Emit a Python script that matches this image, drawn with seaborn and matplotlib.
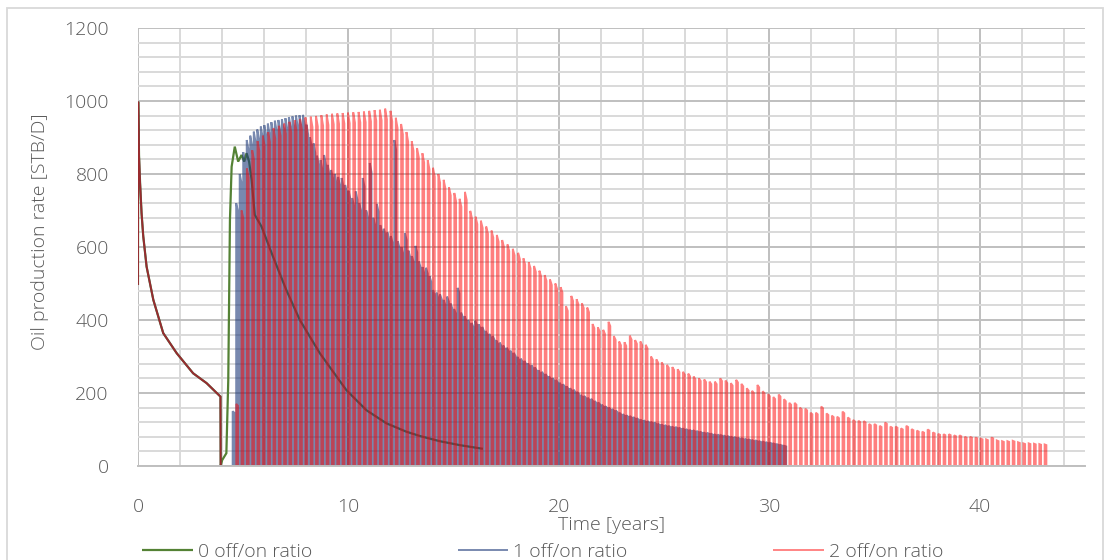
import numpy as np
import pandas as pd
import seaborn as sns
import matplotlib.pyplot as plt
from matplotlib.ticker import MultipleLocator
from matplotlib.patches import Rectangle

# primary depletion, shared by all three cases (years, STB/D)
primary_t = [0.0, 0.01, 0.05, 0.1, 0.17, 0.25, 0.41, 0.73, 1.2, 1.84, 2.62, 3.26, 3.92, 3.93]
primary_q = [496, 998, 850, 775, 693, 630, 546, 455, 364, 309, 254, 227, 190, 0]

# 0 off/on ratio - continuous injection/production
cont_t = [4.0, 4.2, 4.29, 4.37, 4.45, 4.6, 4.76, 4.92, 5.05, 5.16, 5.28, 5.4, 5.55,
          5.87, 6.42, 7.05, 7.69, 8.64, 9.9, 10.85, 11.8, 12.75, 13.4, 14.33, 15.3, 16.39]
cont_q = [16, 35, 235, 674, 820, 875, 834, 852, 834, 857, 834, 784, 688,
          656, 573, 482, 400, 309, 208, 153, 117, 94, 82, 68, 57, 47]

# 1 off/on ratio - peak rate of each cycle
r1_start, r1_period, r1_on = 4.50, 0.167, 0.083
r1_peaks = [150, 720, 800, 860, 893, 905, 916, 922, 930, 934,
            938, 942, 946, 948, 950, 953, 956, 958, 960, 961,
            962, 935, 900, 884, 850, 838, 852, 825, 811, 800,
            792, 789, 770, 754, 734, 752, 720, 789, 700, 830,
            680, 718, 660, 650, 640, 630, 893, 615, 600, 638,
            590, 575, 603, 560, 545, 543, 520, 482, 475, 470,
            455, 464, 445, 430, 488, 420, 410, 400, 392, 398,
            388, 381, 370, 362, 356, 344, 338, 330, 324, 316,
            310, 299, 294, 288, 281, 276, 270, 262, 258, 252,
            246, 241, 236, 228, 224, 218, 213, 209, 203, 195,
            192, 187, 184, 178, 174, 168, 164, 160, 156, 152,
            146, 142, 139, 137, 134, 131, 127, 125, 123, 121,
            119, 116, 114, 112, 110, 108, 107, 105, 103, 101,
            99, 98, 96, 94, 92, 91, 89, 87, 86, 84,
            82, 81, 79, 78, 76, 75, 73, 72, 70, 69,
            67, 66, 64, 63, 61, 59, 57, 55]

# 2 off/on ratio - peak rate of each cycle
r2_start, r2_period, r2_on = 4.67, 0.2527, 0.084
r2_peaks = [170,
            700, 815, 865, 890, 905, 915, 925, 932, 938, 943, 947, 951, 955, 957,
            959, 961, 963, 965, 966, 967, 968, 969, 970, 971, 973, 975, 976,
            979, 973, 954, 937, 915, 890, 871, 857, 838, 817,
            800, 784, 764, 748, 732, 751, 699, 683, 672, 656,
            645, 633, 619, 607, 595, 584, 569, 558, 548, 535,
            523, 511, 500, 490, 438, 466, 457, 446, 434, 389,
            380, 373, 395, 356, 341, 339, 357, 345, 341, 332,
            300, 292, 284, 277, 271, 265, 258, 253, 245, 240,
            237, 231, 231, 240, 234, 227, 236, 225, 213, 206,
            222, 205, 197, 189, 196, 183, 173, 173, 160, 157,
            146, 146, 163, 144, 138, 135, 149, 133, 126, 124,
            123, 115, 115, 110, 119, 108, 108, 103, 110, 101,
            97, 94, 100, 92, 88, 87, 87, 84, 84, 80,
            80, 78, 75, 73, 78, 70, 68, 68, 69, 65,
            62, 62, 61, 60, 59]

labels = ["0 off/on ratio", "1 off/on ratio", "2 off/on ratio"]


def cycles(start, period, on, peaks):
    t, q = [], []
    for i, p in enumerate(peaks):
        s = start + i * period
        t += [s, s, s + on, s + on]
        q += [0, p, p * 0.97, 0]
    return t, q


b_t, b_q = cycles(r1_start, r1_period, r1_on, r1_peaks)
c_t, c_q = cycles(r2_start, r2_period, r2_on, r2_peaks)

df0 = pd.DataFrame({"t": primary_t + cont_t, "q": primary_q + cont_q})
df1 = pd.DataFrame({"t": primary_t + b_t, "q": primary_q + b_q})
df2 = pd.DataFrame({"t": primary_t + c_t, "q": primary_q + c_q})

sns.set_style("white")
plt.rcParams['font.family'] = ['Open Sans', 'DejaVu Sans']
plt.rcParams['font.weight'] = 'light'
plt.rcParams['axes.labelweight'] = 'light'
grey = "#595959"

fig = plt.figure(figsize=(11.1, 5.6), dpi=100)
ax = fig.add_axes([0.1243, 0.1679, 0.8532, 0.7821])

sns.lineplot(data=df0, x="t", y="q", sort=False, estimator=None, color="#548235",
             linewidth=1.6, label=labels[0], ax=ax, legend=False)
sns.lineplot(data=df1, x="t", y="q", sort=False, estimator=None, color="#1F3B7A",
             alpha=0.6, linewidth=1.4, label=labels[1], ax=ax, legend=False)
sns.lineplot(data=df2, x="t", y="q", sort=False, estimator=None, color="#FF0000",
             alpha=0.5, linewidth=1.35, label=labels[2], ax=ax, legend=False)
for ln in ax.get_lines():
    ln.set_solid_joinstyle("miter")
    ln.set_solid_capstyle("butt")

ax.set_xlim(0, 45)
ax.set_ylim(0, 1200)
ax.xaxis.set_major_locator(MultipleLocator(10))
ax.xaxis.set_minor_locator(MultipleLocator(2))
ax.yaxis.set_major_locator(MultipleLocator(200))
ax.yaxis.set_minor_locator(MultipleLocator(40))
ax.grid(which="minor", color="#D9D9D9", lw=1.4)
ax.grid(which="major", color="#BFBFBF", lw=1.4)
ax.set_axisbelow(True)
for s in ["top", "right", "left"]:
    ax.spines[s].set_visible(False)
ax.spines["bottom"].set_color("#BFBFBF")
ax.spines["bottom"].set_linewidth(1.4)
ax.tick_params(which="both", length=0, labelsize=14, labelcolor=grey)
ax.tick_params(axis="x", pad=23)
ax.tick_params(axis="y", pad=21)

ax.set_xlabel("Time [years]", fontsize=14, color=grey, fontweight="light")
ax.xaxis.set_label_coords(0.5005, -0.114)
ax.set_ylabel("Oil production rate [STB/D]", fontsize=14, color=grey, fontweight="light")
ax.yaxis.set_label_coords(-0.094, 0.534)

handles = ax.get_lines()[:3]
fig.legend(handles, labels, loc="center", bbox_to_anchor=(0.489, 0.0143), ncol=3,
           frameon=False, fontsize=14, labelcolor=grey, handlelength=2.6,
           handletextpad=0.25, columnspacing=7.5)

fig.patches.append(Rectangle((7 / 1110, -0.02), 1096 / 1110, 1 - 8 / 560 + 0.02,
                             transform=fig.transFigure, fill=False,
                             edgecolor="#D9D9D9", lw=1.3))

plt.savefig("out.png", dpi=100)
